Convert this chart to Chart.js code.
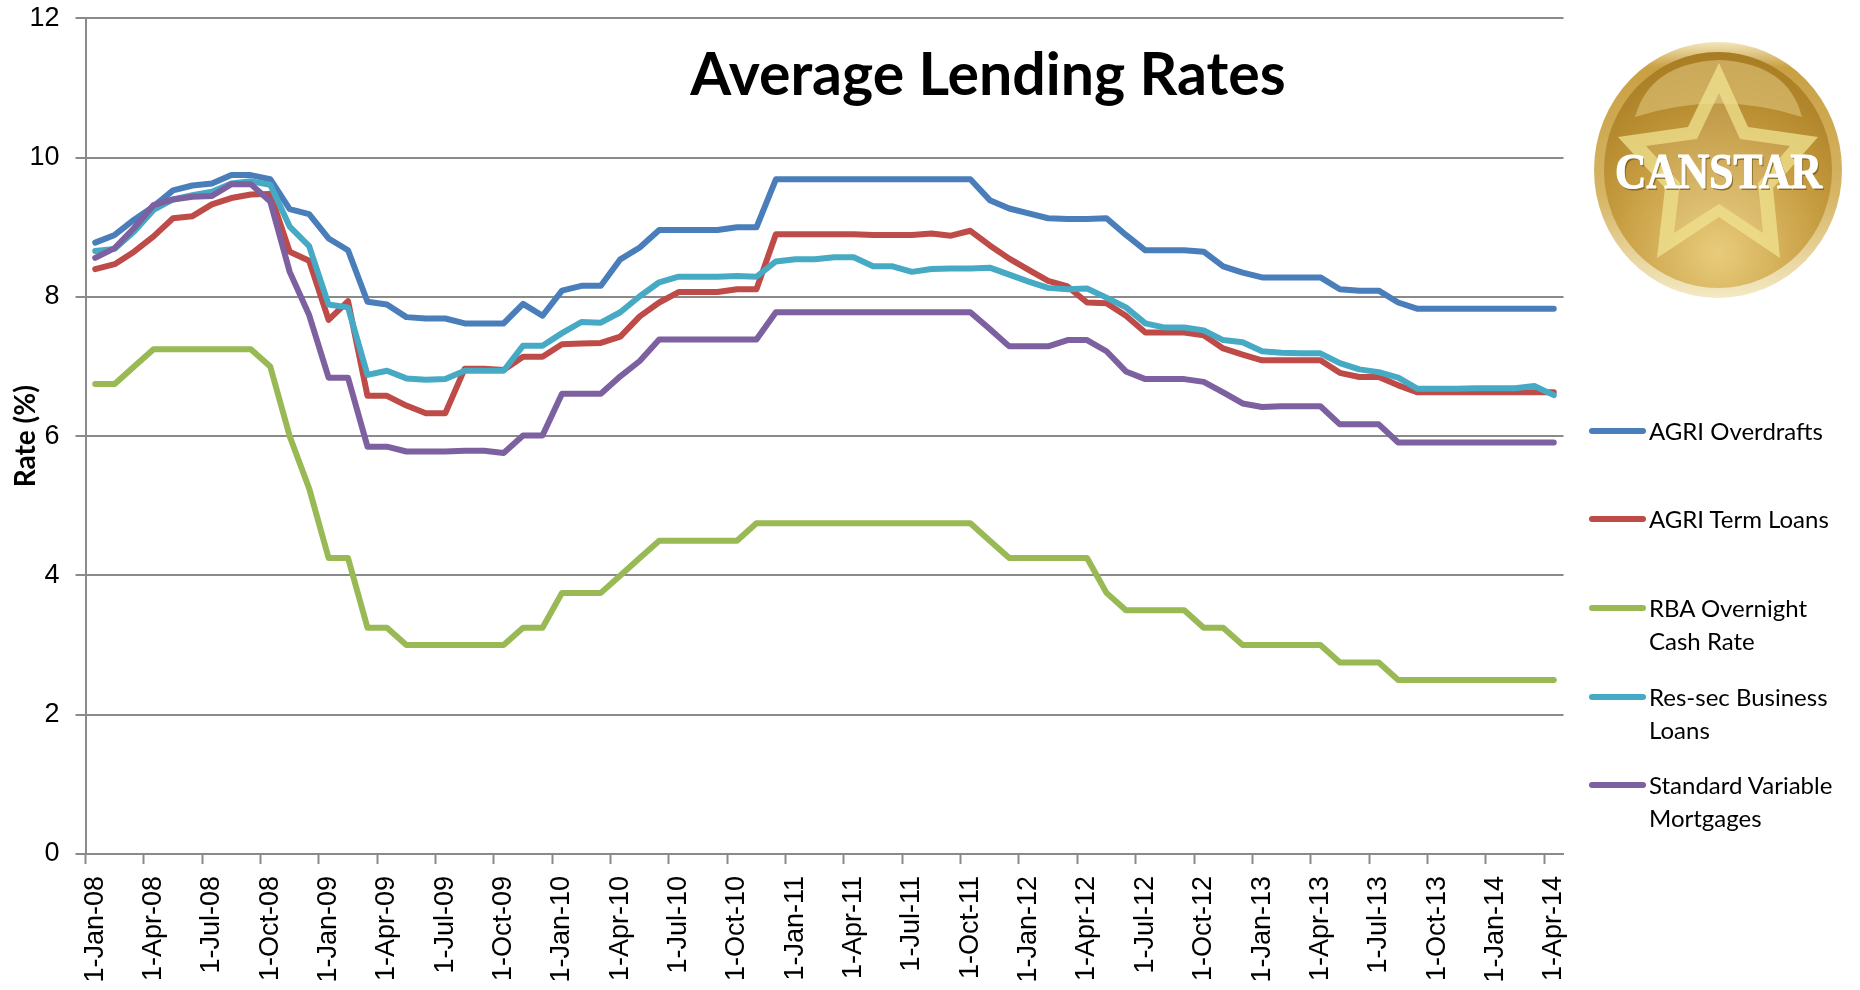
<!DOCTYPE html>
<html>
<head>
<meta charset="utf-8">
<title>Average Lending Rates</title>
<script src="https://cdn.jsdelivr.net/npm/chart.js@4"></script>
<style>
    html, body { margin: 0; padding: 0; background: #fff; width: 1860px; height: 990px; overflow: hidden; }
    #wrap { position: relative; width: 1860px; height: 990px; }
    #chartTitle { position: absolute; left: 588px; width: 800px; top: 37px; text-align: center; font: bold 59px Lato, sans-serif; color: #000; }
    #logo { position: absolute; left: 1590px; top: 38px; }
    .legendRow { position: absolute; left: 1589px; }
    .legendRow i { position: absolute; left: 0; top: -3px; width: 57px; height: 6px; border-radius: 3px; }
    .legendRow span { position: absolute; left: 60px; top: -16px; width: 240px; font: 24px/32.5px Lato, sans-serif; color: #000; }
</style>
</head>
<body>
<div id="wrap">
    <canvas id="myChart" width="1860" height="990"></canvas>
    <div id="chartTitle">Average Lending Rates</div>
    <svg id="logo" width="256" height="264" viewBox="0 0 256 264">
        <defs>
            <linearGradient id="rim" x1="0" y1="0" x2="0" y2="1">
                <stop offset="0" stop-color="#f3e6bc"/>
                <stop offset="0.1" stop-color="#c9a043"/>
                <stop offset="0.6" stop-color="#d6b565"/>
                <stop offset="1" stop-color="#f4e9c4"/>
            </linearGradient>
            <radialGradient id="face" cx="0.5" cy="0.85" r="0.85">
                <stop offset="0" stop-color="#e8cc7c"/>
                <stop offset="0.55" stop-color="#c69c40"/>
                <stop offset="1" stop-color="#a87c22"/>
            </radialGradient>
        </defs>
        <ellipse cx="128" cy="132" rx="124" ry="128" fill="url(#rim)"/>
        <ellipse cx="128" cy="132" rx="114" ry="118" fill="url(#face)"/>
        <path d="M45 79 Q60 25 129 22 Q198 25 212 79 Q129 52 45 79 Z" fill="#dcc077" opacity="0.65"/>
        <polygon points="129,25 158,89 228,99 183,150 190,220 129,179 67,220 75,150 28,99 98,89" fill="#fff" opacity="0.1"/>
        <path fill-rule="evenodd" fill="#f0e28e" opacity="0.72" d="M129 25 L158 89 L228 99 L183 150 L190 220 L129 179 L67 220 L75 150 L28 99 L98 89 Z M129 55 L107 101 L56 108 L90 145 L84 195 L129 166 L173 195 L168 145 L200 108 L150 101 Z"/>
        <text x="130" y="152" text-anchor="middle" textLength="207" lengthAdjust="spacingAndGlyphs" font-family="'Liberation Serif', serif" font-weight="bold" font-size="50" fill="#6e5216" opacity="0.7">CANSTAR</text>
        <text x="128.5" y="150" text-anchor="middle" textLength="207" lengthAdjust="spacingAndGlyphs" font-family="'Liberation Serif', serif" font-weight="bold" font-size="50" fill="#fff" stroke="#fff" stroke-width="1.2">CANSTAR</text>
    </svg>
    <div id="legendBox"></div>
</div>

<script>
const monthLabels = [
    "1-Jan-08","1-Feb-08","1-Mar-08","1-Apr-08","1-May-08","1-Jun-08","1-Jul-08","1-Aug-08","1-Sep-08","1-Oct-08","1-Nov-08","1-Dec-08",
    "1-Jan-09","1-Feb-09","1-Mar-09","1-Apr-09","1-May-09","1-Jun-09","1-Jul-09","1-Aug-09","1-Sep-09","1-Oct-09","1-Nov-09","1-Dec-09",
    "1-Jan-10","1-Feb-10","1-Mar-10","1-Apr-10","1-May-10","1-Jun-10","1-Jul-10","1-Aug-10","1-Sep-10","1-Oct-10","1-Nov-10","1-Dec-10",
    "1-Jan-11","1-Feb-11","1-Mar-11","1-Apr-11","1-May-11","1-Jun-11","1-Jul-11","1-Aug-11","1-Sep-11","1-Oct-11","1-Nov-11","1-Dec-11",
    "1-Jan-12","1-Feb-12","1-Mar-12","1-Apr-12","1-May-12","1-Jun-12","1-Jul-12","1-Aug-12","1-Sep-12","1-Oct-12","1-Nov-12","1-Dec-12",
    "1-Jan-13","1-Feb-13","1-Mar-13","1-Apr-13","1-May-13","1-Jun-13","1-Jul-13","1-Aug-13","1-Sep-13","1-Oct-13","1-Nov-13","1-Dec-13",
    "1-Jan-14","1-Feb-14","1-Mar-14","1-Apr-14"
];

const agriOverdrafts = [
    8.78,8.89,9.11,9.30,9.53,9.60,9.63,9.75,9.75,9.69,9.26,9.19,
    8.84,8.67,7.93,7.89,7.71,7.69,7.69,7.62,7.62,7.62,7.90,7.73,
    8.09,8.16,8.16,8.54,8.71,8.96,8.96,8.96,8.96,9.00,9.00,9.69,
    9.69,9.69,9.69,9.69,9.69,9.69,9.69,9.69,9.69,9.69,9.39,9.27,
    9.20,9.13,9.12,9.12,9.13,8.89,8.67,8.67,8.67,8.65,8.44,8.35,
    8.28,8.28,8.28,8.28,8.11,8.09,8.09,7.92,7.83,7.83,7.83,7.83,
    7.83,7.83,7.83,7.83
];
const agriTermLoans = [
    8.40,8.47,8.65,8.87,9.13,9.16,9.33,9.42,9.47,9.48,8.65,8.52,
    7.67,7.94,6.58,6.58,6.44,6.33,6.33,6.97,6.97,6.95,7.14,7.14,
    7.32,7.33,7.34,7.43,7.72,7.92,8.07,8.07,8.07,8.11,8.11,8.90,
    8.90,8.90,8.90,8.90,8.89,8.89,8.89,8.91,8.88,8.95,8.74,8.55,
    8.39,8.23,8.15,7.92,7.91,7.73,7.49,7.49,7.49,7.45,7.26,7.17,
    7.09,7.09,7.09,7.09,6.91,6.85,6.85,6.73,6.63,6.63,6.63,6.63,
    6.63,6.63,6.63,6.63
];
const rbaCashRate = [
    6.75,6.75,7.00,7.25,7.25,7.25,7.25,7.25,7.25,7.00,6.00,5.25,
    4.25,4.25,3.25,3.25,3.00,3.00,3.00,3.00,3.00,3.00,3.25,3.25,
    3.75,3.75,3.75,4.00,4.25,4.50,4.50,4.50,4.50,4.50,4.75,4.75,
    4.75,4.75,4.75,4.75,4.75,4.75,4.75,4.75,4.75,4.75,4.50,4.25,
    4.25,4.25,4.25,4.25,3.75,3.50,3.50,3.50,3.50,3.25,3.25,3.00,
    3.00,3.00,3.00,3.00,2.75,2.75,2.75,2.50,2.50,2.50,2.50,2.50,
    2.50,2.50,2.50,2.50
];
const resSecLoans = [
    8.66,8.69,8.94,9.25,9.40,9.46,9.51,9.63,9.66,9.61,9.01,8.73,
    7.89,7.85,6.88,6.94,6.83,6.81,6.82,6.94,6.94,6.94,7.30,7.30,
    7.48,7.64,7.63,7.78,8.01,8.21,8.29,8.29,8.29,8.30,8.29,8.51,
    8.54,8.54,8.57,8.57,8.44,8.44,8.36,8.40,8.41,8.41,8.42,8.32,
    8.22,8.13,8.11,8.12,7.99,7.85,7.62,7.56,7.56,7.52,7.38,7.35,
    7.22,7.20,7.19,7.19,7.05,6.96,6.92,6.84,6.68,6.68,6.68,6.69,
    6.69,6.69,6.72,6.59
];
const standardVariable = [
    8.56,8.70,8.99,9.32,9.40,9.44,9.45,9.62,9.62,9.37,8.36,7.74,
    6.84,6.84,5.85,5.85,5.78,5.78,5.78,5.79,5.79,5.76,6.01,6.01,
    6.61,6.61,6.61,6.86,7.08,7.39,7.39,7.39,7.39,7.39,7.39,7.78,
    7.78,7.78,7.78,7.78,7.78,7.78,7.78,7.78,7.78,7.78,7.54,7.29,
    7.29,7.29,7.38,7.38,7.22,6.93,6.82,6.82,6.82,6.78,6.63,6.47,
    6.42,6.43,6.43,6.43,6.17,6.17,6.17,5.91,5.91,5.91,5.91,5.91,
    5.91,5.91,5.91,5.91
];

const seriesNames = [["AGRI Overdrafts"],["AGRI Term Loans"],["RBA Overnight","Cash Rate"],["Res-sec Business","Loans"],["Standard Variable","Mortgages"]];
const seriesValues = [agriOverdrafts, agriTermLoans, rbaCashRate, resSecLoans, standardVariable];
const seriesColors = ["#4A7EBB","#BE4B48","#98B954","#46AAC5","#7D60A0"];
const legendTops = [431, 519, 608, 697, 785];

const axisGrey = "#8a8a8a";
const tickFont = { family: "'Liberation Sans', Arial, sans-serif", size: 27 };

const ctx = document.getElementById('myChart');

// the tick labels should not push the plot area around
function fixAxisSize(scale, width, height) {
    if (width) scale.width = width;
    if (height) scale.height = height;
    scale.paddingTop = 0;
    scale.paddingBottom = 0;
    scale.paddingLeft = 0;
    scale.paddingRight = 0;
}

new Chart(ctx, {
    type: 'line',
    data: {
        labels: monthLabels,
        datasets: seriesValues.map((values, i) => ({
            label: seriesNames[i].join(" "),
            data: values,
            borderColor: seriesColors[i],
            backgroundColor: seriesColors[i],
            borderWidth: 6,
            borderJoinStyle: 'round',
            borderCapStyle: 'round',
            pointRadius: 0,
            tension: 0,
            fill: false,
            order: seriesValues.length - i // last series goes on top, like excel
        }))
    },
    options: {
        responsive: false,
        animation: false,
        layout: { padding: { top: 18.4, right: 296.5, left: 0, bottom: 0 } },
        plugins: { legend: { display: false }, title: { display: false }, tooltip: { enabled: false } },
        scales: {
            x: {
                offset: true,
                afterFit: scale => fixAxisSize(scale, 0, 136),
                border: { color: axisGrey, width: 2 },
                grid: {
                    offset: true,
                    drawOnChartArea: false,
                    tickLength: 10,
                    tickWidth: 2,
                    tickColor: c => (c.index % 3 === 0 ? axisGrey : 'transparent')
                },
                ticks: {
                    autoSkip: false,
                    minRotation: 90,
                    maxRotation: 90,
                    padding: 12,
                    color: '#000',
                    font: tickFont,
                    callback: function(value, index) {
                        return index % 3 === 0 ? monthLabels[index] : '';
                    }
                }
            },
            y: {
                min: 0,
                max: 12,
                afterFit: scale => fixAxisSize(scale, 85.5, 0),
                border: { color: axisGrey, width: 2 },
                grid: { color: axisGrey, lineWidth: 2, tickLength: 10, tickColor: axisGrey },
                ticks: { stepSize: 2, padding: 16, color: '#000', font: tickFont },
                title: {
                    display: true,
                    text: 'Rate (%)',
                    color: '#000',
                    font: { family: "Lato, sans-serif", size: 28, weight: 'bold' },
                    padding: { top: 9, bottom: 0 }
                }
            }
        }
    }
});

// legend has uneven spacing and wrapped names, so built by hand
const legendBox = document.getElementById('legendBox');
seriesNames.forEach((lines, i) => {
    const row = document.createElement('div');
    row.className = 'legendRow';
    row.style.top = legendTops[i] + 'px';
    const swatch = document.createElement('i');
    swatch.style.background = seriesColors[i];
    const text = document.createElement('span');
    text.innerHTML = lines.join('<br>');
    row.appendChild(swatch);
    row.appendChild(text);
    legendBox.appendChild(row);
});
</script>
</body>
</html>
